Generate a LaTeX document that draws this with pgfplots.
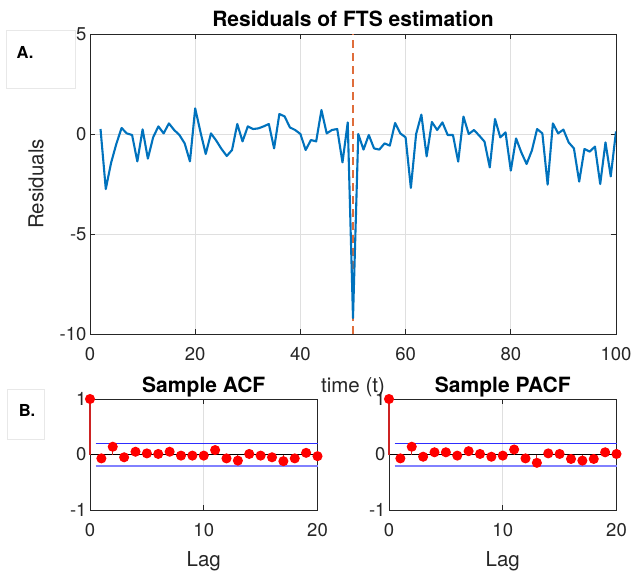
\documentclass[border=0pt]{standalone}
\usepackage{fontspec}
\setmainfont{TeX Gyre Heros}
\usepackage{pgfplots}
\pgfplotsset{compat=1.18}

\definecolor{axgray}{RGB}{38,38,38}
\definecolor{lineblue}{RGB}{0,114,189}
\definecolor{markorange}{RGB}{217,83,25}
\definecolor{gridgray}{RGB}{223,223,223}
\definecolor{boxgray}{RGB}{232,232,232}
\definecolor{stemred}{RGB}{205,35,35}
\definecolor{boundblue}{RGB}{45,45,255}

\pgfplotsset{
  mstyle/.style={
    scale only axis,
    axis background/.style={fill=white},
    axis line style={axgray, line width=0.7pt},
    tick style={axgray, line width=0.7pt},
    tick align=inside,
    major tick length=5pt,
    grid=major,
    major grid style={gridgray, line width=0.7pt},
    ticklabel style={font=\fontsize{18.5}{20}\selectfont, text=axgray},
    xticklabel style={yshift=-10pt},
    /pgf/number format/assume math mode=true,
    label style={font=\fontsize{20.5}{22}\selectfont, text=axgray},
  },
  corrstyle/.style={
    mstyle,
    width=227.5pt, height=111pt,
    xmin=0, xmax=20, ymin=-1, ymax=1,
    xtick={0,10,20}, ytick={-1,0,1},
    clip=false,
    xlabel={Lag},
    xlabel style={at={(axis description cs:0.5,0)}, anchor=base, yshift=-56pt},
  },
}
\tikzset{panel title/.style={anchor=base, font=\fontsize{21}{23}\selectfont\bfseries}}

\begin{document}
\begin{tikzpicture}
\useasboundingbox (0pt,0pt) rectangle (631pt,-575pt);
\fill[white] (0pt,0pt) rectangle (631pt,-575pt);

% panel tags
\draw[boxgray, line width=0.7pt] (6pt,-30pt) rectangle (75pt,-88pt);
\node[font=\fontsize{16.5}{18}\selectfont\bfseries] at (25pt,-52pt) {A.};
\draw[boxgray, line width=0.7pt] (7pt,-389pt) rectangle (44pt,-439pt);
\node[font=\fontsize{16.5}{18}\selectfont\bfseries] at (27pt,-410pt) {B.};

% residual series
\begin{axis}[mstyle,
  at={(90pt,-334pt)}, anchor=south west,
  width=526pt, height=300pt,
  xmin=0, xmax=100, ymin=-10, ymax=5,
  xtick={0,20,40,60,80,100}, ytick={-10,-5,0,5},
  xlabel={time (t)},
  xlabel style={at={(axis description cs:0.5,0)}, anchor=base, yshift=-58pt},
  ylabel={Residuals},
  ylabel style={at={(axis description cs:-0.1027,0.5)}, anchor=center},
]
\addplot[markorange!85, line width=1.1pt, dash pattern=on 8pt off 5pt]
  coordinates {(50,-10) (50,5)};
\addplot[lineblue, line width=2.1pt, line join=round] table {
x y
2 0.25
3 -2.75
4 -1.45
5 -0.5
6 0.3
7 0.03
8 -0.05
9 -1.37
10 0.23
11 -1.23
12 -0.17
13 0.38
14 0.03
15 0.53
16 0.2
17 -0.05
18 -0.47
19 -1.37
20 1.28
21 0.1
22 -1.0
23 0.03
24 -0.33
25 -0.75
26 -1.1
27 -0.8
28 0.5
29 -0.37
30 0.38
31 0.25
32 0.28
33 0.38
34 0.5
35 -0.72
36 1.0
37 0.88
38 0.33
39 0.2
40 0.0
41 -0.8
42 -0.3
43 -0.37
44 1.2
45 0.03
46 0.2
47 0.25
48 -1.42
49 0.58
50 -9.2
51 0.0
52 -0.78
53 -0.05
54 -0.72
55 -0.78
56 -0.47
57 -0.58
58 0.55
59 0.03
60 -0.17
61 -2.7
62 0.0
63 0.97
64 -1.12
65 0.6
66 0.2
67 0.58
68 -0.05
69 -0.05
70 -1.38
71 0.87
72 0.0
73 0.2
74 -0.08
75 -0.38
76 -1.67
77 0.75
78 -0.17
79 0.08
80 -1.83
81 -0.22
82 -0.92
83 -1.5
84 -0.83
85 0.25
86 0.03
87 -2.53
88 0.53
89 0.03
90 0.22
91 -0.42
92 -0.72
93 -2.38
94 -0.75
95 -0.88
96 -0.63
97 -2.5
98 -0.42
99 -2.12
100 0.13
};
\end{axis}
\node[panel title] at (353pt,-27pt) {Residuals of FTS estimation};

% sample autocorrelation
\begin{axis}[corrstyle,
  at={(90pt,-510pt)}, anchor=south west,
]
\addplot[black, line width=1.2pt] coordinates {(0,0) (20,0)};
\addplot[boundblue, line width=1.2pt] coordinates {(0.5,0.2) (20,0.2)};
\addplot[boundblue!60, line width=1.8pt] coordinates {(0.5,-0.2) (20,-0.2)};
\addplot[ycomb, stemred, line width=1.2pt, mark=*, mark size=4.4pt,
  mark options={fill=red, draw=red}] table {
lag r
0 1
1 -0.07
2 0.14
3 -0.05
4 0.05
5 0.02
6 0.01
7 0.05
8 -0.02
9 -0.02
10 -0.02
11 0.08
12 -0.07
13 -0.11
14 0.01
15 -0.02
16 -0.05
17 -0.12
18 -0.07
19 0.03
20 -0.03
};
\end{axis}
\node[panel title] at (203.75pt,-392pt) {Sample ACF};

% sample partial autocorrelation
\begin{axis}[corrstyle,
  at={(389pt,-510pt)}, anchor=south west,
]
\addplot[black, line width=1.2pt] coordinates {(0,0) (20,0)};
\addplot[boundblue, line width=1.2pt] coordinates {(0.5,0.2) (20,0.2)};
\addplot[boundblue!60, line width=1.8pt] coordinates {(0.5,-0.2) (20,-0.2)};
\addplot[ycomb, stemred, line width=1.2pt, mark=*, mark size=4.4pt,
  mark options={fill=red, draw=red}] table {
lag r
0 1
1 -0.07
2 0.14
3 -0.04
4 0.04
5 0.04
6 -0.02
7 0.06
8 0.01
9 -0.04
10 -0.02
11 0.09
12 -0.07
13 -0.15
14 0.02
15 0.01
16 -0.08
17 -0.11
18 -0.08
19 0.04
20 0.01
};
\end{axis}
\node[panel title] at (502.75pt,-392pt) {Sample PACF};
\end{tikzpicture}
\end{document}
